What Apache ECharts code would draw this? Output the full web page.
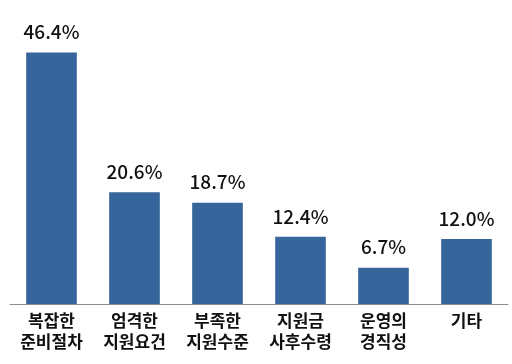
<!DOCTYPE html>
<html><head><meta charset="utf-8">
<script src="https://cdn.jsdelivr.net/npm/echarts@6/dist/echarts.min.js"></script>
<style>html,body{margin:0;padding:0;background:#fff}#c{width:512px;height:364px}</style>
</head><body><div id="c"></div>
<script>
const categories = ['복잡한\n준비절차','엄격한\n지원요건','부족한\n지원수준','지원금\n사후수령','운영의\n경직성','기타'];
const values = [46.4, 20.6, 18.7, 12.4, 6.7, 12.0];
const chart = echarts.init(document.getElementById('c'));
chart.setOption({
  animation: false,
  grid: {left: 10, right: 4, top: 33, bottom: 60, containLabel: false},
  xAxis: {
    type: 'category', data: categories,
    axisLine: {lineStyle: {color: '#8c8c8c', width: 1}},
    axisTick: {show: false},
    axisLabel: {color: '#111', fontSize: 17, fontWeight: 'bold', lineHeight: 21, margin: 6, fontFamily: 'Noto Sans CJK KR', interval: 0}
  },
  yAxis: {type: 'value', min: 0, max: 50, show: false, splitLine: {show: false}},
  series: [{
    type: 'bar', data: values, barWidth: '61%',
    itemStyle: {color: '#35659a'},
    label: {show: true, position: 'top', distance: 11, color: '#111', fontSize: 19, fontWeight: 500, fontFamily: 'Noto Sans CJK KR',
      formatter: p => p.value.toFixed(1) + '%'}
  }]
});
</script></body></html>
